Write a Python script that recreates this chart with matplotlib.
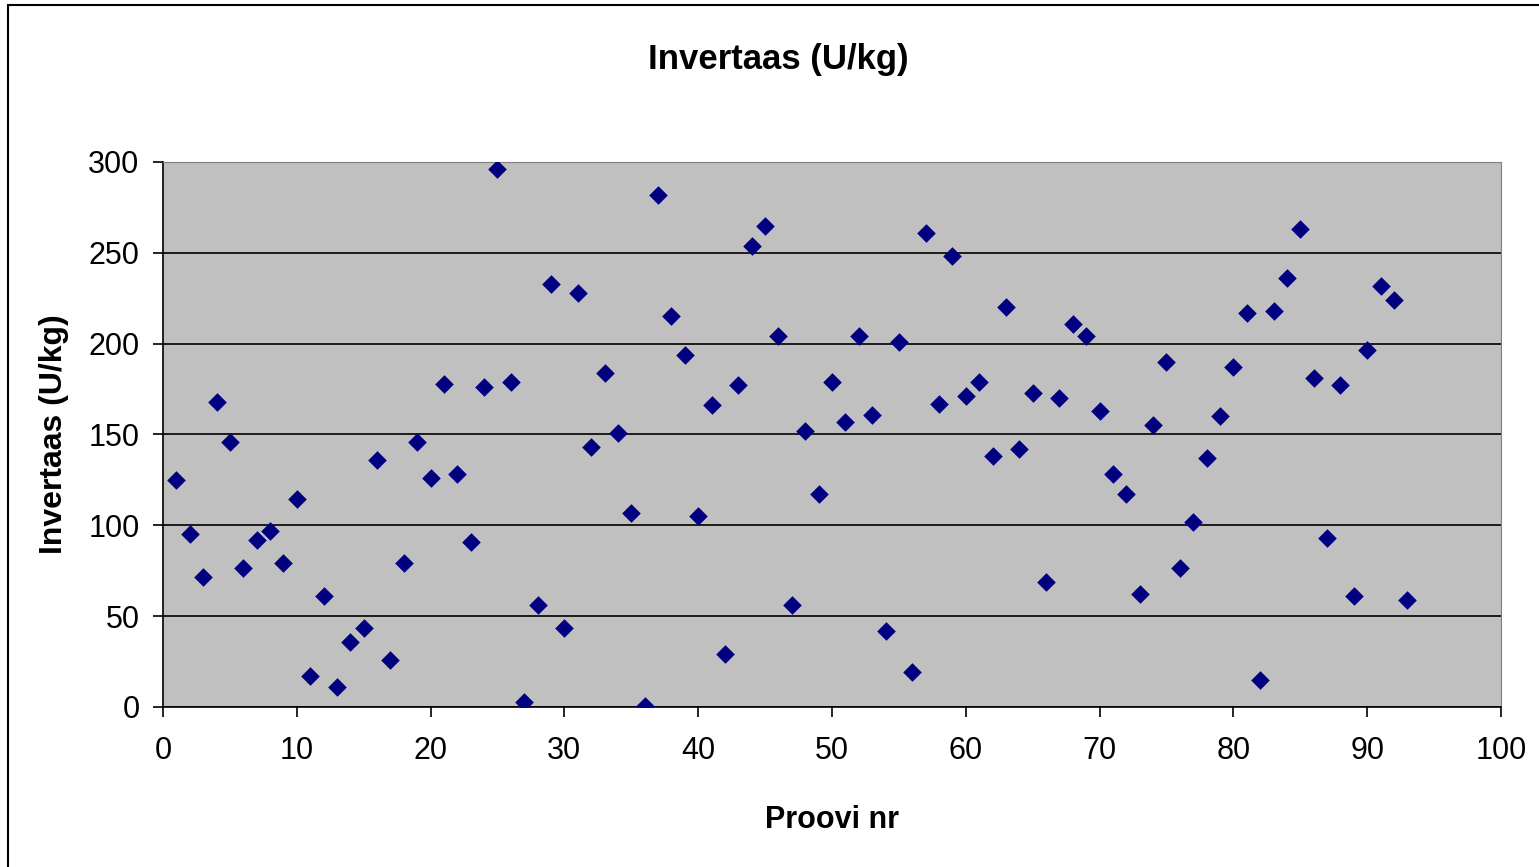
import matplotlib.pyplot as plt
from matplotlib.patches import Rectangle

sample_nr = list(range(1, 94))
invertase = [125, 95, 71.5, 168, 146, 76.5, 92, 97, 79, 114.5,
             17, 61, 11, 36, 43.5, 136, 26, 79, 146, 126,
             178, 128, 91, 176, 296, 179, 3, 56, 233, 43.5,
             228, 143, 184, 151, 107, 0.5, 282, 215, 194, 105,
             166, 29, 177, 254, 265, 204, 56, 152, 117, 179,
             157, 204, 161, 42, 201, 19, 261, 167, 248, 171,
             179, 138, 220, 142, 173, 69, 170, 211, 204, 163,
             128, 117, 62, 155, 190, 76.5, 102, 137, 160, 187,
             217, 15, 218, 236, 263, 181, 93, 177, 61, 196.5,
             232, 224, 59]

plt.rcParams['font.family'] = ['Liberation Sans', 'DejaVu Sans']

fig = plt.figure(figsize=(15.39, 8.67), dpi=100)
ax = fig.add_axes([163 / 1539, 1 - 707 / 867, (1501 - 163) / 1539, (707 - 162) / 867])

ax.set_facecolor('#C0C0C0')
ax.scatter(sample_nr, invertase, marker='D', s=90, color='#000080', zorder=3, linewidths=0)

ax.set_xlim(0, 100)
ax.set_ylim(0, 300)
ax.set_xticks(range(0, 101, 10))
ax.set_yticks(range(0, 301, 50))
ax.yaxis.grid(True, color='black', linewidth=1.2)
ax.set_axisbelow(True)
for side in ['top', 'right']:
    ax.spines[side].set_color('#808080')
for side in ['left', 'bottom']:
    ax.spines[side].set_color('black')
    ax.spines[side].set_linewidth(1.2)
ax.tick_params(direction='out', length=7, width=1.2, labelsize=22)
ax.tick_params(axis='x', pad=14)
ax.tick_params(axis='y', pad=10)

ax.set_xlabel('Proovi nr', fontsize=22, fontweight='bold', labelpad=28)
ax.set_ylabel('Invertaas (U/kg)', fontsize=23, fontweight='bold', labelpad=14)
fig.text(778 / 1539, 1 - 60 / 867, 'Invertaas (U/kg)', ha='center', va='center',
         fontsize=25, fontweight='bold')

fig.patches.append(Rectangle((8 / 1539, -0.01), 1.1, 1 - 5 / 867 + 0.01,
                             transform=fig.transFigure, fill=False,
                             edgecolor='black', linewidth=1.5))

fig.savefig('out.png', dpi=100)
